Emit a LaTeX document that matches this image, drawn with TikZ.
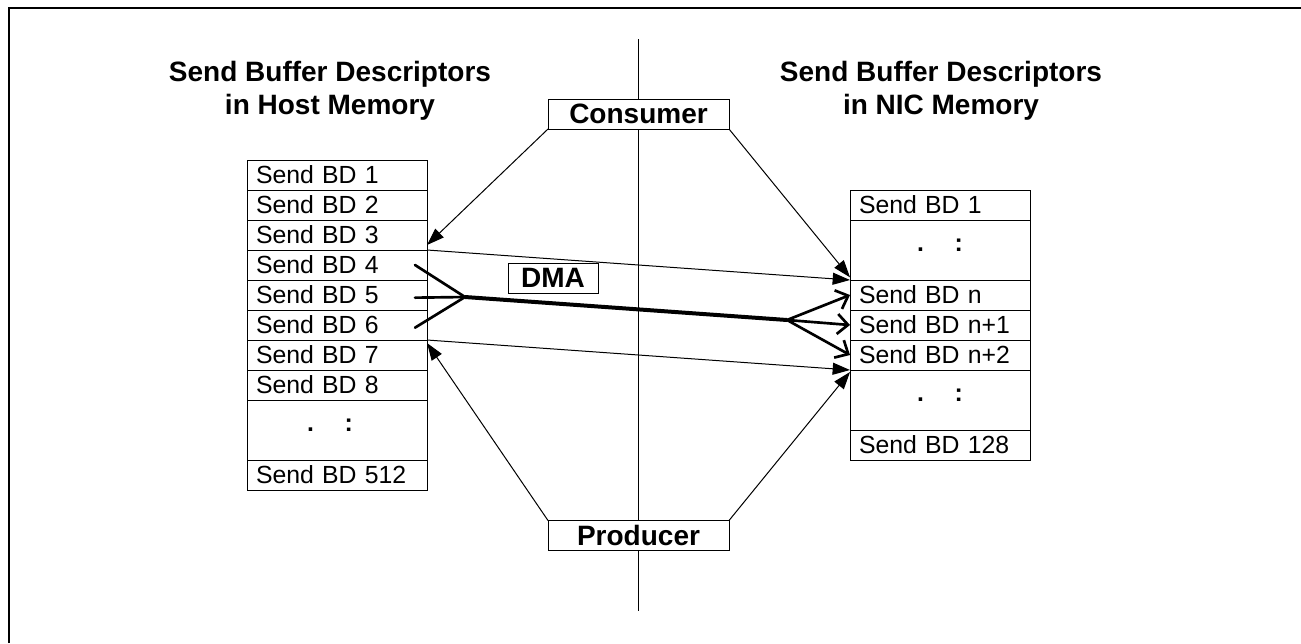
\documentclass[tikz,border=0pt]{standalone}
\usepackage{fontspec}
\setmainfont{Liberation Sans}
\usetikzlibrary{arrows.meta,positioning}

\newcommand{\bdfont}{\fontsize{18.6pt}{22pt}\selectfont}
\newcommand{\headfont}{\fontsize{21pt}{24.5pt}\selectfont\bfseries}

\begin{document}
\begin{tikzpicture}[x=0.75pt,y=-0.75pt,
  bd/.style={draw, rectangle, outer sep=0pt, inner xsep=6.75pt, inner ysep=0pt, minimum height=22.5pt, text width=121.5pt, align=left, font=\bdfont},
  bddots/.style={bd, minimum height=45pt, align=center, font=\bdfont\bfseries},
  head/.style={align=center, inner sep=0pt, font=\headfont},
  tag/.style={draw, fill=white, rectangle, outer sep=0pt, inner sep=0pt, minimum height=22.5pt, font=\headfont},
  ptr/.style={line width=0.75pt, -{Triangle[length=13pt,width=9pt]}},
  dmaline/.style={line width=2pt, line cap=round},
  dmaarrow/.style={line width=2pt, -{Straight Barb[length=8pt,width=15pt]}}]
\useasboundingbox (0,0) rectangle (1301,643);
\draw[line width=1.5pt] (9,643) -- (9,7.7) -- (1301,7.7);
\draw[line width=0.75pt] (638,39) -- (638,611);
% host side
\node[head, anchor=north] (hosttitle) at (330,61) {Send Buffer Descriptors\\in Host Memory};
\node[bd] (host1) at (337,175) {Send BD 1};
\node[bd, below=0pt of host1] (host2) {Send BD 2};
\node[bd, below=0pt of host2] (host3) {Send BD 3};
\node[bd, below=0pt of host3] (host4) {Send BD 4};
\node[bd, below=0pt of host4] (host5) {Send BD 5};
\node[bd, below=0pt of host5] (host6) {Send BD 6};
\node[bd, below=0pt of host6] (host7) {Send BD 7};
\node[bd, below=0pt of host7] (host8) {Send BD 8};
\node[bddots, below=0pt of host8] (hostdots) {\raisebox{7.5pt}{.\hspace{23pt}:\hspace{10.5pt}}};
\node[bd, below=0pt of hostdots] (host512) {Send BD 512};
% NIC side
\node[head, anchor=north] (nictitle) at (941,61) {Send Buffer Descriptors\\in NIC Memory};
\node[bd] (nic1) at (940,205) {Send BD 1};
\node[bddots, below=0pt of nic1] (nicdotsa) {\raisebox{7.5pt}{.\hspace{23pt}:}};
\node[bd, below=0pt of nicdotsa] (nicn) {Send BD n};
\node[bd, below=0pt of nicn] (nicna) {Send BD n+1};
\node[bd, below=0pt of nicna] (nicnb) {Send BD n+2};
\node[bddots, below=0pt of nicnb] (nicdotsb) {\raisebox{7.5pt}{.\hspace{23pt}:}};
\node[bd, below=0pt of nicdotsb] (nic128) {Send BD 128};
% pointers
\node[tag, minimum width=135.75pt] (consumer) at (638.5,114) {Consumer};
\node[tag, minimum width=135.75pt] (producer) at (638.5,535.5) {Producer};
\node[tag, minimum width=67.5pt] (dma) at (553,278) {DMA};
\draw[ptr] (consumer.south west) -- ([yshift=3.75pt]host3.south east);
\draw[ptr] (consumer.south east) -- ([yshift=2pt]nicdotsa.south west);
\draw[ptr] (producer.north west) -- ([yshift=-2.25pt]host7.north east);
\draw[ptr] (producer.north east) -- ([yshift=-1.5pt]nicdotsb.north west);
\draw[ptr] (host3.south east) -- (nicdotsa.south west);
\draw[ptr] (host7.north east) -- (nicnb.south west);
% DMA transfer
\coordinate (dmain) at (465,297);
\coordinate (dmaout) at (787,320);
\draw[dmaline] ([xshift=-9pt]host4.east) -- (dmain);
\draw[dmaline] ([xshift=-9pt,yshift=-2pt]host5.east) -- (dmain);
\draw[dmaline] ([xshift=-9pt,yshift=-2pt]host6.east) -- (dmain);
\draw[line width=3pt] (dmain) -- (dmaout);
\draw[dmaarrow] (dmaout) -- (nicn.west);
\draw[dmaarrow] (dmaout) -- (nicna.west);
\draw[dmaarrow] (dmaout) -- (nicnb.west);
\end{tikzpicture}
\end{document}
